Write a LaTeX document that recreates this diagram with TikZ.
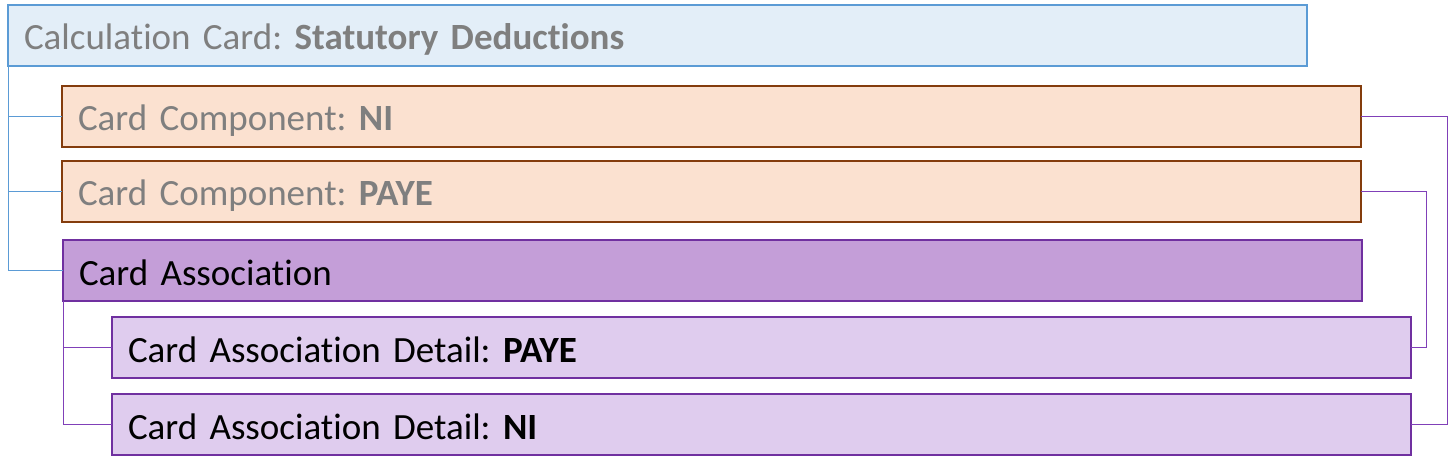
\documentclass[tikz,border=0pt]{standalone}
\usepackage{fontspec}
\setmainfont[Ligatures=NoCommon]{Carlito}
\begin{document}
\begin{tikzpicture}[x=1pt,y=-1pt,
  box/.style={draw, rectangle, anchor=north west, minimum height=61pt,
    text width=1267pt, inner xsep=16pt, inner ysep=0pt, outer sep=0pt, align=left,
    text height=30pt, text depth=1pt,
    font=\fontsize{37}{40}\selectfont\frenchspacing},
  calcbox/.style={box, draw=calcline, fill=calcfill, line width=1.5pt, text=txtgray},
  compbox/.style={box, draw=compline, fill=compfill, line width=1.8pt, text=txtgray},
  assocbox/.style={box, draw=purpline, fill=assocfill, line width=1.8pt, text=black},
  detbox/.style={box, draw=purpline, fill=detfill, line width=1.8pt, text=black},
  blueconn/.style={draw=calcline, line width=1pt},
  purpconn/.style={draw=connpurp, line width=1pt}]
\definecolor{calcline}{HTML}{5B9BD5}
\definecolor{calcfill}{HTML}{E3EEF8}
\definecolor{compline}{HTML}{843C0C}
\definecolor{compfill}{HTML}{FBE1D0}
\definecolor{purpline}{HTML}{7030A0}
\definecolor{connpurp}{HTML}{8040B8}
\definecolor{assocfill}{HTML}{C49ED8}
\definecolor{detfill}{HTML}{DFCCEE}
\definecolor{txtgray}{HTML}{7F7F7F}
\useasboundingbox (0,0) rectangle (1450,470);
\node[calcbox] (calc) at (8,5) {Calculation Card: \textbf{Statutory Deductions}};
\node[compbox] (ni) at (62,86) {Card Component: \textbf{NI}};
\node[compbox] (paye) at (62,161) {Card Component: \textbf{PAYE}};
\node[assocbox] (assoc) at (63,240) {Card Association};
\node[detbox] (dpaye) at (112,317) {Card Association Detail: \textbf{PAYE}};
\node[detbox] (dni) at (112,394) {Card Association Detail: \textbf{NI}};
% left blue connectors
\draw[blueconn] (calc.south west) |- (ni.west);
\draw[blueconn] (calc.south west) |- (paye.west);
\draw[blueconn] (calc.south west) |- (assoc.west);
% left purple connectors
\draw[purpconn] (assoc.south west) |- (dpaye.west);
\draw[purpconn] (assoc.south west) |- (dni.west);
% right purple connectors
\draw[purpconn] (ni.east) -- ++(86,0) |- (dni.east);
\draw[purpconn] (paye.east) -- ++(65,0) |- (dpaye.east);
\end{tikzpicture}
\end{document}
